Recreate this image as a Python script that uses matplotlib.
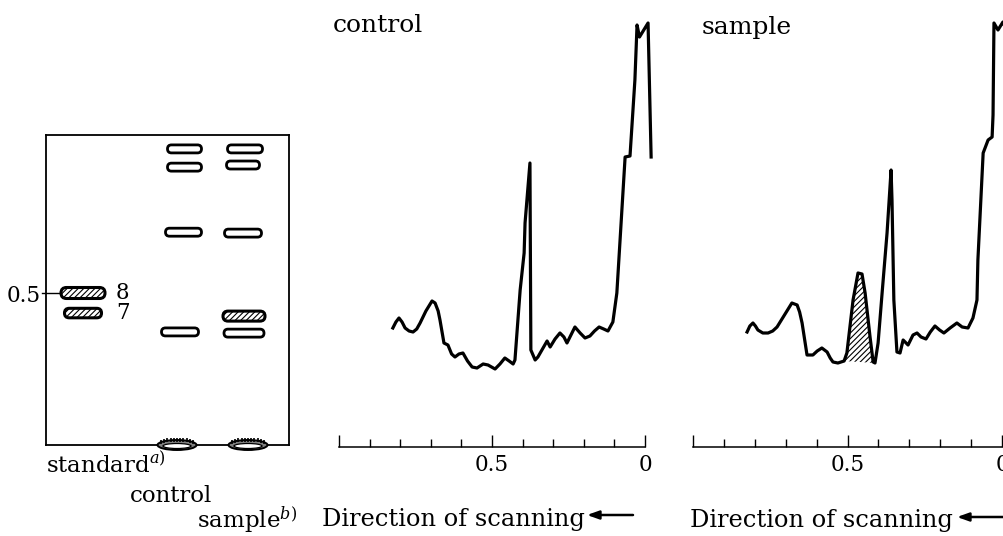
import numpy as np
import matplotlib
matplotlib.use("Agg")
import matplotlib.pyplot as plt
from matplotlib.patches import FancyBboxPatch, Ellipse, FancyArrowPatch

W, H = 1004, 536
plt.rcParams['font.family'] = ['DejaVu Serif']
plt.rcParams['mathtext.fontset'] = 'dejavuserif'
plt.rcParams['hatch.linewidth'] = 0.8

# ---------------- data ----------------
# densitometric scans (Rf vs. relative absorbance)
control_rf = [0.824, 0.814, 0.804, 0.794, 0.784, 0.771, 0.758, 0.746, 0.735, 0.716,
              0.696, 0.686, 0.676, 0.670, 0.657, 0.644, 0.632, 0.621, 0.608, 0.595,
              0.580, 0.565, 0.549, 0.529, 0.513, 0.490, 0.474, 0.458, 0.444, 0.431,
              0.425, 0.408, 0.395, 0.392, 0.376, 0.373, 0.359, 0.350, 0.335, 0.320,
              0.310, 0.294, 0.278, 0.265, 0.255, 0.242, 0.229, 0.212, 0.196, 0.180,
              0.165, 0.150, 0.135, 0.121, 0.105, 0.092, 0.065, 0.049, 0.033, 0.026,
              0.018, 0.010, -0.010, -0.020]
control_abs = [1.19, 1.25, 1.29, 1.25, 1.19, 1.16, 1.15, 1.18, 1.24, 1.36,
               1.46, 1.44, 1.36, 1.27, 1.04, 1.02, 0.93, 0.90, 0.93, 0.94,
               0.86, 0.80, 0.79, 0.83, 0.82, 0.78, 0.83, 0.89, 0.86, 0.83,
               0.87, 1.57, 1.94, 2.24, 2.84, 0.97, 0.87, 0.90, 0.98, 1.06,
               1.00, 1.08, 1.14, 1.10, 1.04, 1.12, 1.20, 1.14, 1.09, 1.11,
               1.16, 1.20, 1.18, 1.16, 1.25, 1.54, 2.90, 2.91, 3.67, 4.22,
               4.10, 4.14, 4.24, 2.90]

sample_rf = [0.825, 0.816, 0.806, 0.798, 0.790, 0.774, 0.757, 0.742, 0.728, 0.704,
             0.680, 0.663, 0.655, 0.647, 0.631, 0.612, 0.598, 0.583, 0.566, 0.556,
             0.547, 0.531, 0.511, 0.502, 0.482, 0.466, 0.453, 0.443, 0.427, 0.417,
             0.411, 0.401, 0.388, 0.372, 0.359, 0.356, 0.350, 0.340, 0.330, 0.320,
             0.304, 0.288, 0.275, 0.262, 0.246, 0.232, 0.217, 0.202, 0.188, 0.168,
             0.146, 0.129, 0.110, 0.094, 0.081, 0.078, 0.061, 0.045, 0.032, 0.029,
             0.026, 0.013, -0.003, -0.015]
sample_abs = [1.15, 1.21, 1.24, 1.21, 1.17, 1.14, 1.14, 1.16, 1.20, 1.32,
              1.44, 1.42, 1.35, 1.24, 0.92, 0.92, 0.96, 0.99, 0.95, 0.89,
              0.85, 0.84, 0.86, 0.94, 1.47, 1.74, 1.73, 1.54, 1.10, 0.85,
              0.84, 1.04, 1.54, 2.14, 2.77, 2.47, 1.47, 0.95, 0.94, 1.07,
              1.02, 1.12, 1.14, 1.10, 1.08, 1.15, 1.21, 1.17, 1.14, 1.19,
              1.24, 1.20, 1.19, 1.29, 1.47, 1.87, 2.94, 3.07, 3.10, 3.32,
              4.24, 4.17, 4.25, 4.17]
hatched_peak = (0.411, 0.511)   # Rf range of the new (hatched) peak

# TLC plate
standard_rf = [0.500, 0.434]
standard_labels = ['8', '7']
control_spots_rf = [0.974, 0.914, 0.700, 0.372]
sample_spots_rf = [0.974, 0.921, 0.697, 0.424, 0.368]
sample_hatched = [False, False, False, True, False]
lane_names = [r'standard$^{a)}$', 'control', r'sample$^{b)}$']
plate_tick = [0.5]
scan_ticks = [1.0, 0.5, 0.0]
scan_ticklabels = ['', '0.5', '0']

# ---------------- figure ----------------
fig = plt.figure(figsize=(W / 100, H / 100), dpi=100)


def px_axes(x0, y0, x1, y1):
    return fig.add_axes([x0 / W, 1 - y1 / H, (x1 - x0) / W, (y1 - y0) / H])


FS = 16.5
FS_NUM = 15.5
PPR = 304.0  # plate pixels per Rf unit

# ---- TLC plate ----
axp = px_axes(46, 135, 289, 445)
axp.set_xlim(0, 243)
axp.set_ylim(0, 310 / PPR)
for s in axp.spines.values():
    s.set_linewidth(1.3)
axp.set_xticks([])
axp.set_yticks(plate_tick, ['0.5'])
axp.tick_params(axis='y', length=0, pad=4, labelsize=FS_NUM)
axp.plot([-4, 14], [plate_tick[0]] * 2, color='black', lw=1.0, clip_on=False)


def spot(ax, xc, rf, w, hpx, hatched=False, lw=2.0):
    h = hpx / PPR
    p = FancyBboxPatch((xc - w / 2, rf - h / 2), w, h,
                       boxstyle=f"round,pad=0,rounding_size={hpx / 2}",
                       mutation_aspect=1 / PPR, facecolor='white',
                       edgecolor='black', lw=lw,
                       hatch='//////' if hatched else None, zorder=3)
    ax.add_patch(p)


std_w = [44, 37]
std_h = [11, 9.5]
for rf, lab, w, hh in zip(standard_rf, standard_labels, std_w, std_h):
    spot(axp, 37, rf, w, hh, hatched=True, lw=2.2)
    axp.text(70, rf, lab, ha='left', va='center', fontsize=15.5)

ctrl_x = [138.5, 138.5, 137.5, 134]
ctrl_w = [34, 34, 36, 37]
for rf, xc, w in zip(control_spots_rf, ctrl_x, ctrl_w):
    spot(axp, xc, rf, w, 8)

smp_x = [199, 197, 197, 198, 198]
smp_w = [35, 33, 37, 42, 40]
for rf, xc, w, hat in zip(sample_spots_rf, smp_x, smp_w, sample_hatched):
    spot(axp, xc, rf, w, 10 if hat else 8, hatched=hat, lw=2.2 if hat else 2.0)

# origin spots
for xc in [131, 202]:
    e = Ellipse((xc, 0), 39, 10 / PPR, facecolor='0.5', edgecolor='black',
                lw=1.4, clip_on=False, zorder=3)
    axp.add_patch(e)
    e2 = Ellipse((xc, -1.0 / PPR), 28, 5 / PPR, facecolor='white', edgecolor='black',
                 lw=0.9, clip_on=False, zorder=4)
    axp.add_patch(e2)
    dx = np.linspace(-16, 16, 11)
    yy = (5.5 / PPR) * np.sqrt(np.clip(1 - (dx / 19.5) ** 2, 0, 1))
    axp.plot(xc + dx, yy, linestyle='none', marker='|', ms=3.5, mew=1.2,
             color='black', clip_on=False, zorder=5)

fig.text(46 / W, 1 - 473 / H, lane_names[0], fontsize=FS, va='baseline')
fig.text(130 / W, 1 - 502 / H, lane_names[1], fontsize=FS, va='baseline')
fig.text(197 / W, 1 - 528 / H, lane_names[2], fontsize=FS, va='baseline')


# ---- scans ----
def scan_axes(x0, x1):
    ax = px_axes(x0, 0, x1, 447)
    ax.set_xlim(1.0, 0.0)
    ax.set_ylim(0, 4.47)
    for k in ['top', 'left', 'right']:
        ax.spines[k].set_visible(False)
    ax.spines['bottom'].set_linewidth(1.1)
    ax.set_yticks([])
    ax.set_xticks(scan_ticks, scan_ticklabels)
    ax.set_xticks([0.1, 0.2, 0.3, 0.4, 0.6, 0.7, 0.8, 0.9], minor=True)
    ax.tick_params(axis='x', which='major', direction='in', length=8.5, width=1.0,
                   pad=5, labelsize=FS_NUM)
    ax.tick_params(axis='x', which='minor', direction='in', length=5.5, width=1.0)
    ax.patch.set_alpha(0)
    return ax


axc = scan_axes(339, 645)
axc.plot(control_rf, control_abs, color='black', lw=2.3, clip_on=False,
         solid_joinstyle='round')

axs = scan_axes(693, 1002)
axs.plot(sample_rf, sample_abs, color='black', lw=2.3, clip_on=False,
         solid_joinstyle='round')
srf = np.array(sample_rf)
sab = np.array(sample_abs)
m = (srf >= hatched_peak[0]) & (srf <= hatched_peak[1])
xr, yr = srf[m], sab[m]
base = np.interp(xr, [xr[-1], xr[0]], [yr[-1], yr[0]])
axs.fill_between(xr, base, yr, facecolor='none', edgecolor='black', lw=0,
                 hatch='//////')

fig.text(333 / W, 1 - 32 / H, 'control', fontsize=18, va='baseline')
fig.text(702 / W, 1 - 34 / H, 'sample', fontsize=18, va='baseline')

for x_text, x_a0, x_a1, yb, ya in [(322, 633, 587, 526, 515), (690, 1004, 957, 527, 517)]:
    fig.text(x_text / W, 1 - yb / H, 'Direction of scanning', fontsize=17.4, va='baseline')
    fig.add_artist(FancyArrowPatch(
        (x_a0, H - ya), (x_a1, H - ya), transform=None,
        arrowstyle='-|>,head_length=7,head_width=2.5', lw=1.8, color='black',
        mutation_scale=1, shrinkA=0, shrinkB=0))

fig.savefig('out.png', dpi=100)
